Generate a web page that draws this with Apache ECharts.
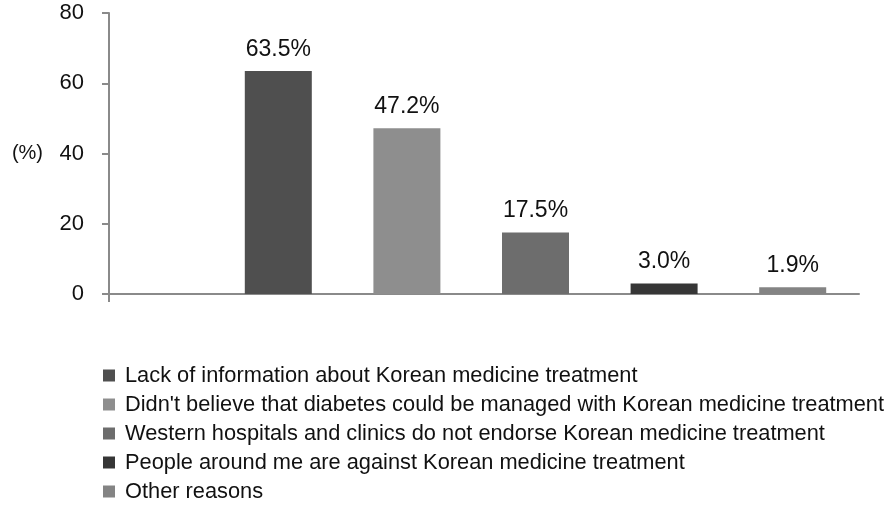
<!DOCTYPE html>
<html>
<head>
<meta charset="utf-8">
<script src="https://cdn.jsdelivr.net/npm/echarts@6/dist/echarts.min.js"></script>
<style>html,body{margin:0;padding:0;background:#fff;}#c{width:887px;height:506px;}</style>
</head>
<body>
<div id="c"></div>
<script>
const categories = [
  'Lack of information about Korean medicine treatment',
  "Didn't believe that diabetes could be managed with Korean medicine treatment",
  'Western hospitals and clinics do not endorse Korean medicine treatment',
  'People around me are against Korean medicine treatment',
  'Other reasons'
];
const values = [63.5, 47.2, 17.5, 3.0, 1.9];
const barColors = ['#4f4f4f', '#8e8e8e', '#6d6d6d', '#363636', '#848484'];
const yMin = 0, yMax = 80, yStep = 20;

const FONT = '"Liberation Sans", Arial, Helvetica, sans-serif';
const TXT = '#111111';
const AXIS = '#8a8a8a';

const chart = echarts.init(document.getElementById('c'), null, {renderer: 'canvas'});

const series = categories.map((name, i) => ({
  name: name,
  type: 'bar',
  xAxisIndex: 1,
  yAxisIndex: 1,
  stack: 'all',
  barWidth: 67,
  itemStyle: {color: barColors[i]},
  label: {
    show: true,
    position: 'top',
    distance: 10,
    fontFamily: FONT,
    fontSize: 23,
    color: TXT,
    formatter: p => Number(p.value).toFixed(1) + '%'
  },
  data: categories.map((c, j) => j === i ? values[i] : '-')
}));

chart.setOption({
  animation: false,
  backgroundColor: '#fff',
  textStyle: {fontFamily: FONT},
  grid: [
    {left: 109, right: 28, top: 13, height: 281},
    {left: 214, right: 30, top: 13, height: 281}
  ],
  xAxis: [
    {
      gridIndex: 0, type: 'value', min: 0, max: 100,
      axisLine: {show: true, lineStyle: {color: AXIS, width: 2}},
      axisTick: {show: true, customValues: [0], length: 8, lineStyle: {color: AXIS, width: 2}},
      axisLabel: {show: false},
      splitLine: {show: false}
    },
    {
      gridIndex: 1, type: 'category', data: categories,
      show: false
    }
  ],
  yAxis: [
    {
      gridIndex: 0, type: 'value', min: yMin, max: yMax, interval: yStep,
      axisLine: {show: true, lineStyle: {color: AXIS, width: 2}},
      axisTick: {show: true, length: 7, lineStyle: {color: AXIS, width: 2}},
      axisLabel: {fontFamily: FONT, fontSize: 22, color: TXT, margin: 25},
      splitLine: {show: false},
      name: '(%)',
      nameLocation: 'middle',
      nameRotate: 0,
      nameGap: 66,
      nameTextStyle: {fontFamily: FONT, fontSize: 20, color: TXT}
    },
    {
      gridIndex: 1, type: 'value', min: yMin, max: yMax, interval: yStep,
      show: false, splitLine: {show: false}
    }
  ],
  legend: {
    orient: 'vertical',
    left: 103,
    top: 364,
    padding: 0,
    itemWidth: 12,
    itemHeight: 12,
    itemGap: 6,
    icon: 'rect',
    selectedMode: false,
    textStyle: {fontFamily: FONT, fontSize: 21.8, color: TXT, lineHeight: 23, padding: [0, 0, 0, 5]},
    data: categories
  },
  series: series
});
</script>
</body>
</html>
